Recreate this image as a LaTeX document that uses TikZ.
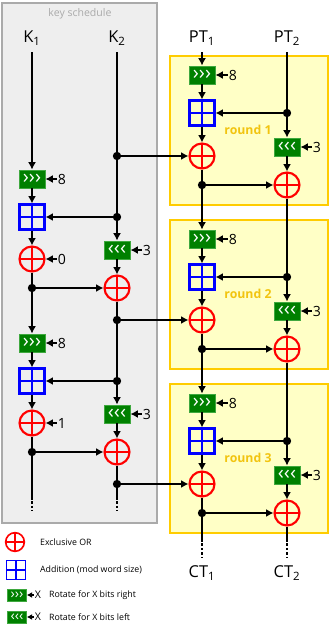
\documentclass[tikz,border=0pt]{standalone}
\usepackage{fontspec}
\setmainfont{Open Sans}
\usetikzlibrary{arrows.meta,positioning}
\definecolor{RotGreen}{HTML}{008000}
\definecolor{RotEdge}{HTML}{3FA83F}
\definecolor{AddBlue}{HTML}{0000FF}
\definecolor{XorRed}{HTML}{FF0000}
\definecolor{RoundFill}{HTML}{FFFFC6}
\definecolor{RoundEdge}{HTML}{FFCC00}
\definecolor{RoundText}{HTML}{F2C40F}
\definecolor{KeyFill}{HTML}{EEEEEE}
\definecolor{KeyEdge}{HTML}{AAAAAA}

\begin{document}
\begin{tikzpicture}[
  x=0.3mm, y=-0.3mm,
  >=Latex,
  every node/.style={font=\fontsize{12}{14}\selectfont},
  wire/.style={line width=2.4pt},
  flow/.style={-{Latex[length=2.2mm,width=2.4mm]},line width=2.4pt},
  tail/.style={line width=2.4pt,dash pattern=on 2.2pt off 1.6pt},
  port/.style={font=\fontsize{14}{16}\selectfont,inner sep=2mm},
  rotbox/.style={draw=RotEdge,fill=RotGreen,line width=0.8pt,minimum width=7.8mm,
    minimum height=5.4mm,inner sep=0pt,text=white,font=\fontsize{17}{17}\selectfont},
  addbox/.style={draw=AddBlue,line width=1.8pt,minimum size=7.5mm,inner sep=0pt,
    path picture={\draw[AddBlue,line width=1.8pt]
      (path picture bounding box.north) -- (path picture bounding box.south)
      (path picture bounding box.west) -- (path picture bounding box.east);}},
  xorop/.style={circle,draw=XorRed,line width=1.8pt,minimum size=7.5mm,inner sep=0pt,
    path picture={\draw[XorRed,line width=1.8pt]
      (path picture bounding box.north) -- (path picture bounding box.south)
      (path picture bounding box.west) -- (path picture bounding box.east);}},
  joint/.style={circle,fill=black,minimum size=2.5mm,inner sep=0pt},
  amount/.style={inner sep=1pt},
  roundbox/.style={draw=RoundEdge,fill=RoundFill,line width=2pt},
  roundname/.style={text=RoundText,font=\bfseries\fontsize{10.5}{12}\selectfont},
  legend/.style={anchor=west,font=\fontsize{7.5}{8}\selectfont}
]
  \useasboundingbox (0,0) rectangle (330,625);

  % Backgrounds: key schedule and the three rounds.
  \draw[draw=KeyEdge,fill=KeyFill,line width=2.4pt] (2,3) rectangle (157,523);
  \node[text=KeyEdge,font=\fontsize{9}{10}\selectfont] at (80,14) {key schedule};
  \draw[roundbox] (170,56) rectangle (328,205);
  \draw[roundbox] (170,220) rectangle (328,369);
  \draw[roundbox] (170,384) rectangle (328,533);
  \node[roundname] at (248,130) {round 1};
  \node[roundname] at (248,294) {round 2};
  \node[roundname] at (248,458) {round 3};

  \node[port] (key1) at (32,38) {K\textsubscript{1}};
  \node[port] (key2) at (117,38) {K\textsubscript{2}};
  \node[port] (pt1) at (202,38) {PT\textsubscript{1}};
  \node[port] (pt2) at (287,38) {PT\textsubscript{2}};
  \node[port] (ct1) at (202,573) {CT\textsubscript{1}};
  \node[port] (ct2) at (287,573) {CT\textsubscript{2}};

  % Key schedule.
  \node[joint] (kj0) at (117,156) {};
  \node[rotbox] (k1s) at (32,179) {›››};
  \node[addbox] (k1a) at (32,217) {};
  \node[joint] (k1d) at (117,217) {};
  \node[xorop] (k1x) at (32,259) {};
  \node[rotbox] (k1l) at (117,250) {‹‹‹};
  \node[xorop] (k1y) at (117,288) {};
  \node[joint] (k1e) at (32,288) {};
  \node[joint] (k1o) at (117,320) {};
  \node[amount] (k1n) at (62,179) {8};
  \node[amount] (k1c) at (62,259) {0};
  \node[amount] (k1m) at (147,250) {3};

  \node[rotbox] (k2s) at (32,343) {›››};
  \node[addbox] (k2a) at (32,381) {};
  \node[joint] (k2d) at (117,381) {};
  \node[xorop] (k2x) at (32,423) {};
  \node[rotbox] (k2l) at (117,414) {‹‹‹};
  \node[xorop] (k2y) at (117,452) {};
  \node[joint] (k2e) at (32,452) {};
  \node[joint] (k2o) at (117,484) {};
  \node[amount] (k2n) at (62,343) {8};
  \node[amount] (k2c) at (62,423) {1};
  \node[amount] (k2m) at (147,414) {3};

  \coordinate (kend1) at (32,497);
  \coordinate (kstop1) at (32,511);
  \coordinate (kend2) at (117,497);
  \coordinate (kstop2) at (117,511);

  \draw[flow] (key1) -- (k1s);
  \draw[flow] (k1s) -- (k1a);
  \draw[flow] (k1a) -- (k1x);
  \draw[wire] (k1x) -- (k1e);
  \draw[flow] (k1e) -- (k2s);
  \draw[flow] (k2s) -- (k2a);
  \draw[flow] (k2a) -- (k2x);
  \draw[wire] (k2x) -- (k2e);
  \draw[wire] (k2e) -- (kend1);
  \draw[tail] (kend1) -- (kstop1);

  \draw[wire] (key2) -- (kj0);
  \draw[wire] (kj0) -- (k1d);
  \draw[flow] (k1d) -- (k1l);
  \draw[flow] (k1l) -- (k1y);
  \draw[wire] (k1y) -- (k1o);
  \draw[wire] (k1o) -- (k2d);
  \draw[flow] (k2d) -- (k2l);
  \draw[flow] (k2l) -- (k2y);
  \draw[wire] (k2y) -- (k2o);
  \draw[wire] (k2o) -- (kend2);
  \draw[tail] (kend2) -- (kstop2);

  \draw[flow] (k1d) -- (k1a);
  \draw[flow] (k1e) -- (k1y);
  \draw[flow] (k2d) -- (k2a);
  \draw[flow] (k2e) -- (k2y);
  \draw[flow] (k1n) -- (k1s);
  \draw[flow] (k1c) -- (k1x);
  \draw[flow] (k1m) -- (k1l);
  \draw[flow] (k2n) -- (k2s);
  \draw[flow] (k2c) -- (k2x);
  \draw[flow] (k2m) -- (k2l);

  % Rounds.
  \node[rotbox] (r1s) at (202,75) {›››};
  \node[addbox] (r1a) at (202,113) {};
  \node[joint] (r1d) at (287,113) {};
  \node[xorop] (r1x) at (202,156) {};
  \node[rotbox] (r1l) at (287,147) {‹‹‹};
  \node[xorop] (r1y) at (287,185) {};
  \node[joint] (r1e) at (202,185) {};
  \node[amount] (r1n) at (233,75) {8};
  \node[amount] (r1m) at (317,147) {3};

  \node[rotbox] (r2s) at (202,239) {›››};
  \node[addbox] (r2a) at (202,277) {};
  \node[joint] (r2d) at (287,277) {};
  \node[xorop] (r2x) at (202,320) {};
  \node[rotbox] (r2l) at (287,311) {‹‹‹};
  \node[xorop] (r2y) at (287,349) {};
  \node[joint] (r2e) at (202,349) {};
  \node[amount] (r2n) at (233,239) {8};
  \node[amount] (r2m) at (317,311) {3};

  \node[rotbox] (r3s) at (202,403) {›››};
  \node[addbox] (r3a) at (202,441) {};
  \node[joint] (r3d) at (287,441) {};
  \node[xorop] (r3x) at (202,484) {};
  \node[rotbox] (r3l) at (287,475) {‹‹‹};
  \node[xorop] (r3y) at (287,513) {};
  \node[joint] (r3e) at (202,513) {};
  \node[amount] (r3n) at (233,403) {8};
  \node[amount] (r3m) at (317,475) {3};

  \coordinate (pend1) at (202,539);
  \coordinate (pstop1) at (202,558);
  \coordinate (pend2) at (287,539);
  \coordinate (pstop2) at (287,558);

  \draw[flow] (pt1) -- (r1s);
  \draw[flow] (r1s) -- (r1a);
  \draw[flow] (r1a) -- (r1x);
  \draw[wire] (r1x) -- (r1e);
  \draw[flow] (r1e) -- (r2s);
  \draw[flow] (r2s) -- (r2a);
  \draw[flow] (r2a) -- (r2x);
  \draw[wire] (r2x) -- (r2e);
  \draw[flow] (r2e) -- (r3s);
  \draw[flow] (r3s) -- (r3a);
  \draw[flow] (r3a) -- (r3x);
  \draw[wire] (r3x) -- (r3e);
  \draw[wire] (r3e) -- (pend1);
  \draw[tail] (pend1) -- (pstop1);

  \draw[wire] (pt2) -- (r1d);
  \draw[flow] (r1d) -- (r1l);
  \draw[flow] (r1l) -- (r1y);
  \draw[wire] (r1y) -- (r2d);
  \draw[flow] (r2d) -- (r2l);
  \draw[flow] (r2l) -- (r2y);
  \draw[wire] (r2y) -- (r3d);
  \draw[flow] (r3d) -- (r3l);
  \draw[flow] (r3l) -- (r3y);
  \draw[wire] (r3y) -- (pend2);
  \draw[tail] (pend2) -- (pstop2);

  \draw[flow] (r1d) -- (r1a);
  \draw[flow] (r1e) -- (r1y);
  \draw[flow] (r2d) -- (r2a);
  \draw[flow] (r2e) -- (r2y);
  \draw[flow] (r3d) -- (r3a);
  \draw[flow] (r3e) -- (r3y);
  \draw[flow] (r1n) -- (r1s);
  \draw[flow] (r1m) -- (r1l);
  \draw[flow] (r2n) -- (r2s);
  \draw[flow] (r2m) -- (r2l);
  \draw[flow] (r3n) -- (r3s);
  \draw[flow] (r3m) -- (r3l);

  % Round keys into the rounds.
  \draw[flow] (kj0) -- (r1x);
  \draw[flow] (k1o) -- (r2x);
  \draw[flow] (k2o) -- (r3x);

  % Legend.
  \node[xorop,minimum size=5.6mm,line width=1.4pt] (lxor) at (15,542) {};
  \node[legend] at (36,542) {Exclusive OR};
  \node[addbox,minimum size=5.6mm,line width=1.4pt] (ladd) at (16,570) {};
  \node[legend] at (36,570) {Addition (mod word size)};
  \node[rotbox,minimum width=5.6mm,minimum height=3.6mm,
    font=\fontsize{12}{12}\selectfont] (lrr) at (17,595) {›››};
  \node[amount,font=\fontsize{9}{10}\selectfont] (lrrx) at (38,595) {X};
  \node[legend] at (45,595) {Rotate for X bits right};
  \node[rotbox,minimum width=5.6mm,minimum height=3.6mm,
    font=\fontsize{12}{12}\selectfont] (lrl) at (17,617) {‹‹‹};
  \node[amount,font=\fontsize{9}{10}\selectfont] (lrlx) at (38,617) {X};
  \node[legend] at (45,617) {Rotate for X bits left};
  \draw[-{Latex[length=1.6mm,width=1.8mm]},line width=1.6pt] (lrrx) -- (lrr);
  \draw[-{Latex[length=1.6mm,width=1.8mm]},line width=1.6pt] (lrlx) -- (lrl);
\end{tikzpicture}
\end{document}
